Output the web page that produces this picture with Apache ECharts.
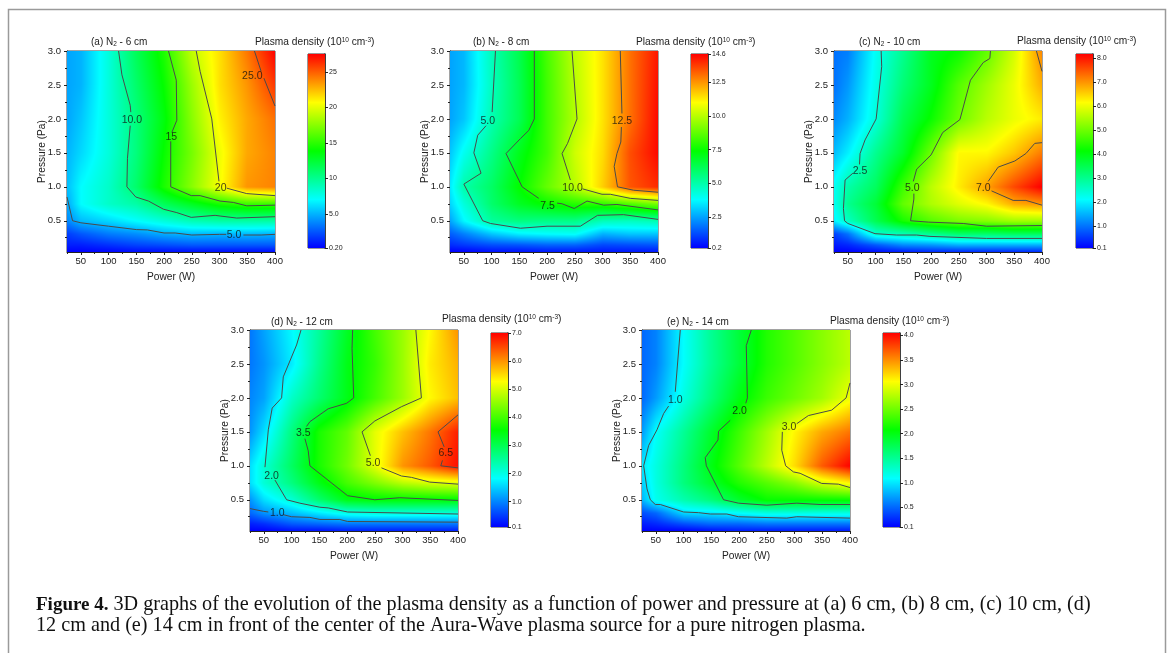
<!DOCTYPE html>
<html><head><meta charset="utf-8">
<style>html,body{margin:0;padding:0;background:#fff}#c{width:1168px;height:653px}</style>
<script src="https://cdn.jsdelivr.net/npm/echarts@6/dist/echarts.min.js"></script>
</head><body><div id="c"></div>
<script>
const powers = [25,50,100,150,200,250,300,350,400];
const pressures = [3,2.5,2,1.5,1,0.75,0.5,0.3,0.15,0.04];

const densityA = [
 [4.6,5,8,11.5,14.6,19,21.5,24.3,27.5],
 [4.6,5,8,11,14,18,21.5,23.5,26],
 [4.6,5.5,8,10.5,13.5,17.5,21,23,24.5],
 [5,6,8,10.5,14,17,20.3,23,24],
 [5.3,7,8.5,11,14.5,17.5,20.5,23.5,24],
 [4.7,7,8.5,9.4,11.5,13,14.5,15.3,15.3],
 [3.8,5.2,6,7,8,9,9.5,9.5,9.5],
 [1.8,2.5,3.5,4,4.8,5.2,5,5.2,5],
 [1,1,1.5,2,2.3,2.6,2.6,2.6,2.6],
 [0.2,0.2,0.3,0.5,0.5,0.5,0.5,0.5,0.5]];
const densityB = [
 [2.5,2.8,4.8,6.3,8.4,10.1,11.4,13,14.3],
 [2.5,2.8,4.7,6.2,8.3,10,11.4,13,14.4],
 [2.5,3,4.9,6.2,8.3,9.9,11.4,13,14.5],
 [3,4,5.5,7,8.3,10.3,11.5,13.5,14.5],
 [3.5,5,6,7.4,8.8,10,11.7,13.4,14],
 [3.2,4.3,5.9,6.9,7.5,7.9,8,8.5,9.1],
 [2.5,3.7,5.2,5.6,5.5,5.5,4.8,4.7,4.9],
 [1.5,2,3,3.6,3.8,3.9,2.7,3,3],
 [0.8,1,1.3,1.4,1.6,1.6,1.2,1.3,1.4],
 [0.2,0.2,0.4,0.4,0.5,0.5,0.5,0.5,0.5]];
const densityC = [
 [1,1.1,2.2,3,3.9,4.2,4.9,5.8,7.1],
 [1,1.3,2.3,3.2,3.9,4.8,5.4,6,6.8],
 [1.2,1.5,2.4,3.5,4.2,5,5.6,6,6.3],
 [1.6,2,3,3.8,5,6.2,6.2,6.6,7.2],
 [2.2,2.8,3.4,4.6,5.6,6.3,6.9,7.6,8.2],
 [2.2,3,3.7,4.9,5.5,5.9,6.2,6.8,7],
 [2,2.6,3.5,4.3,4.8,5.1,5.2,5.4,5.4],
 [0.6,1,2.5,2.7,3,3.3,3.3,3.4,3.4],
 [0.3,0.4,0.8,1.2,1.3,1.5,1.5,1.5,1.5],
 [0.1,0.1,0.2,0.3,0.4,0.4,0.4,0.4,0.4]];
const densityD = [
 [0.9,1.2,1.8,2.5,3.3,4,4.6,5.3,6],
 [0.9,1.1,1.7,2.6,3.4,3.9,4.6,5.4,5.8],
 [1,1.2,2.2,2.8,3.4,4,4.6,5.3,5.7],
 [1.1,1.6,2.7,3.7,4.2,5.1,5.7,6.2,6.8],
 [1.6,2.1,2.9,3.7,4.3,5.1,6,6.4,6.9],
 [1.6,2.1,2.7,3.4,4,4.4,4.8,5,5.1],
 [1.1,1.6,2.1,2.8,3.4,3.5,3.5,3.5,3.5],
 [0.8,1.1,1.4,1.7,2,2.1,2.1,2.1,2.1],
 [0.3,0.4,0.7,0.8,0.9,0.9,0.9,0.9,0.9],
 [0.1,0.1,0.2,0.2,0.3,0.3,0.3,0.3,0.3]];
const densityE = [
 [0.5,0.6,1.1,1.5,1.85,2.2,2.4,2.6,2.8],
 [0.5,0.6,1.1,1.5,1.85,2.2,2.4,2.6,2.8],
 [0.5,0.7,1.2,1.6,2,2.3,2.5,2.7,3],
 [0.7,1.1,1.5,1.9,2.3,2.7,3.1,3.4,3.6],
 [1,1.2,1.6,2,2.4,2.8,3.2,3.7,4.05],
 [0.9,1.2,1.6,1.9,2.2,2.4,2.6,2.9,3.1],
 [0.8,1.15,1.4,1.6,1.9,2.1,2.1,2.1,2.1],
 [0.4,0.5,0.95,1,1.1,1.2,1.2,1.2,1.2],
 [0.2,0.25,0.4,0.5,0.5,0.55,0.55,0.55,0.55],
 [0.1,0.1,0.1,0.15,0.2,0.2,0.2,0.2,0.2]];

// Contour traces as [power, pressure]
const contoursA = [
 [[25,0.85],[35,0.5],[50,0.47],[100,0.42],[150,0.37],[170,0.365],[200,0.32],[220,0.32],[250,0.29],[300,0.3],[312,0.3]],
 [[343,0.29],[375,0.29],[400,0.3]],
 [[118,3],[124,2.65],[139,2.2],[140,2.1]],
 [[139,1.9],[134,1.42],[133,1],[149,0.85],[172,0.79],[199,0.67],[223,0.62],[249,0.55],[292,0.58],[301,0.57],[331,0.54],[400,0.56]],
 [[208,3],[222,2.57],[223,1.98],[214,1.8]],
 [[212,1.67],[212,1],[249,0.87],[265,0.87],[301,0.79],[325,0.77],[349,0.72],[400,0.73]],
 [[258,3],[265,2.7],[286,2],[299,1.08]],
 [[313,0.98],[349,0.9],[400,0.87]],
 [[363,3],[375,2.7]],
 [[380,2.6],[400,2.19]]];
const labelsA = [[142,2,'10.0'],[213,1.75,'15'],[302,1,'20'],[359,2.65,'25.0'],[326,0.3,'5.0']];

const contoursB = [
 [[107,3],[101,2.1]],
 [[90,1.9],[75,1.76],[68,1.5],[81,1.2],[50,1.04],[84,0.5],[98,0.46],[152,0.39],[200,0.42],[260,0.42],[291,0.58],[338,0.59],[400,0.52]],
 [[177,3],[177,2],[167,1.83],[152,1.71],[126,1.49],[155,1],[185,0.83]],
 [[218,0.76],[227,0.75],[249,0.68],[272,0.79],[302,0.73],[326,0.74],[400,0.66]],
 [[245,3],[254,2],[237,1.64],[227,1.49],[242,1.1]],
 [[264,0.97],[299,0.89],[314,0.89],[350,0.83],[400,0.8]],
 [[332,3],[335,2.08]],
 [[334,1.88],[333,1.66],[326,1.49],[321,1.3],[327,1],[356,0.95],[400,0.92]]];
const labelsB = [[93,1.98,'5.0'],[201,0.73,'7.5'],[246,1,'10.0'],[335,1.98,'12.5']];

const contoursC = [
 [[110,3],[111,2.77],[101,2],[81,1.69],[72,1.49],[71,1.33]],
 [[59,1.2],[45,1.1],[42,0.68],[44,0.5],[50,0.46],[99,0.31],[138,0.29],[174,0.29],[198,0.27],[300,0.24],[400,0.24]],
 [[307,3],[306,2.89],[294,2.83],[271,2.57],[252,1.99],[221,1.8],[200,1.47],[174,1.26],[168,1.08]],
 [[169,0.9],[169,0.82],[163,0.5],[195,0.48],[258,0.46],[300,0.42],[400,0.43]],
 [[390,3],[400,2.7]],
 [[303,1.08],[321,1.29],[351,1.38],[371,1.49],[387,1.64],[400,1.65]],
 [[309,0.94],[348,0.8],[371,0.8],[400,0.73]]];
const labelsC = [[72,1.24,'2.5'],[166,1,'5.0'],[294,1,'7.0']];

const contoursD = [
 [[25,0.37],[49,0.33],[58,0.32]],
 [[85,0.28],[100,0.25],[133,0.24],[151,0.21],[187,0.21],[201,0.18],[400,0.17]],
 [[117,3],[109,2.78],[85,2.31],[82,2],[65,1.85],[58,1.53],[52,0.98]],
 [[70,0.79],[91,0.5],[115,0.45],[151,0.39],[166,0.38],[201,0.32],[400,0.29]],
 [[210,3],[209,2.73],[212,2],[199,1.92],[166,1.84],[133,1.65],[127,1.58]],
 [[124,1.4],[130,1.22],[133,1],[201,0.56],[250,0.5],[295,0.53],[400,0.49]],
 [[324,3],[334,2],[298,1.87],[250,1.66],[227,1.5],[242,1.15]],
 [[262,0.97],[298,0.85],[316,0.83],[349,0.76],[400,0.73]],
 [[400,1.75],[364,1.5],[375,1.28]],
 [[372,1.08],[369,1],[400,0.97]]];
const labelsD = [[74,0.32,'1.0'],[64,0.87,'2.0'],[121,1.5,'3.5'],[247,1.06,'5.0'],[378,1.2,'6.5']];

const contoursE = [
 [[94,3],[85,2.09]],
 [[73,1.88],[64,1.77],[52,1.53],[37,1.3],[28,1],[34,0.66],[40,0.5],[49,0.43],[58,0.43],[100,0.32],[127,0.31],[148,0.29],[178,0.29],[199,0.25],[286,0.23],[304,0.25],[400,0.23]],
 [[222,3],[213,2.77],[215,2],[212,1.92]],
 [[184,1.67],[163,1.51],[162,1.38],[139,1.12],[141,1],[172,0.5],[199,0.45],[250,0.42],[304,0.45],[346,0.43],[400,0.43]],
 [[400,2.22],[393,2],[367,1.82],[325,1.74],[304,1.62]],
 [[278,1.5],[277,1.23],[284,1],[298,0.91],[310,0.89],[349,0.74],[379,0.73],[400,0.68]]];
const labelsE = [[85,1.98,'1.0'],[201,1.82,'2.0'],[290,1.59,'3.0']];

const barTicksA = ['0.20','5.0','10','15','20','25'];
const barTicksB = ['0.2','2.5','5.0','7.5','10.0','12.5','14.6'];
const barTicksC = ['0.1','1.0','2.0','3.0','4.0','5.0','6.0','7.0','8.0'];
const barTicksD = ['0.1','1.0','2.0','3.0','4.0','5.0','6.0','7.0'];
const barTicksE = ['0.1','0.5','1.0','1.5','2.0','2.5','3.0','3.5','4.0'];

const xLabels = [50,100,150,200,250,300,350,400];
const xMinor = [25,75,125,175,225,275,325,375];
const yLabels = [0.5,1,1.5,2,2.5,3];
const yMinor = [0.25,0.75,1.25,1.75,2.25,2.75];

const panels = [
 {name:'(a) N{s|2} - 6 cm', d:densityA, c:contoursA, l:labelsA, t:barTicksA, lo:0.2, hi:27.5, gx:67, gy:51, bx:308, by:54, tx:91, ty:37, dx:255, dy:37},
 {name:'(b) N{s|2} - 8 cm', d:densityB, c:contoursB, l:labelsB, t:barTicksB, lo:0.2, hi:14.6, gx:450, gy:51, bx:691, by:54, tx:473, ty:37, dx:636, dy:37},
 {name:'(c) N{s|2} - 10 cm', d:densityC, c:contoursC, l:labelsC, t:barTicksC, lo:0.1, hi:8.17, gx:834, gy:51, bx:1076, by:54, tx:859, ty:37, dx:1017, dy:36},
 {name:'(d) N{s|2} - 12 cm', d:densityD, c:contoursD, l:labelsD, t:barTicksD, lo:0.1, hi:7, gx:250, gy:330, bx:491, by:333, tx:271, ty:317, dx:442, dy:314},
 {name:'(e) N{s|2} - 14 cm', d:densityE, c:contoursE, l:labelsE, t:barTicksE, lo:0.1, hi:4.05, gx:642, gy:330, bx:883, by:333, tx:667, ty:317, dx:830, dy:316}
];

const stops = [[0,[0,0,255]],[0.25,[0,255,255]],[0.5,[0,255,0]],[0.75,[255,255,0]],[1,[255,0,0]]];
function ramp(t){
  t=Math.max(0,Math.min(1,t));
  for(let i=1;i<stops.length;i++){
    if(t<=stops[i][0]){
      const a=stops[i-1],b=stops[i],f=(t-a[0])/(b[0]-a[0]);
      return [0,1,2].map(k=>a[1][k]+(b[1][k]-a[1][k])*f);
    }
  }
  return stops[4][1];
}
// Shades one measured cell: colour blends between its four corner readings
function renderCell(lo,hi){
  return function(params,api){
    const [x0,x1,y0,y1,a,b,c,d]=[0,1,2,3,4,5,6,7].map(i=>api.value(i));
    const p0=api.coord([x0,y0]),p1=api.coord([x1,y1]);
    const L=Math.round(p0[0]),R=Math.round(p1[0]),T=Math.round(p0[1]),B=Math.round(p1[1]);
    const w=Math.max(1,R-L),h=Math.max(1,B-T);
    const cv=document.createElement('canvas');cv.width=w;cv.height=h;
    const g=cv.getContext('2d'),im=g.createImageData(w,h);
    for(let j=0;j<h;j++){
      const v=(j+0.5)/h;
      for(let i=0;i<w;i++){
        const u=(i+0.5)/w;
        const val=(a*(1-u)+b*u)*(1-v)+(c*(1-u)+d*u)*v;
        const col=ramp((val-lo)/(hi-lo)),o=(j*w+i)*4;
        im.data[o]=col[0];im.data[o+1]=col[1];im.data[o+2]=col[2];im.data[o+3]=255;
      }
    }
    g.putImageData(im,0,0);
    return {type:'image',style:{image:cv,x:L,y:T,width:w,height:h},silent:true};
  };
}
function renderBar(params,api){
  const x0=api.coord([0,api.value(0)]),x1=api.coord([1,api.value(1)]);
  return {type:'rect',shape:{x:x0[0],y:x1[1],width:x1[0]-x0[0],height:x0[1]-x1[1]},
    style:{fill:{type:'linear',x:0,y:1,x2:0,y2:0,colorStops:stops.map(s=>({offset:s[0],color:'rgb('+s[1].join(',')+')'}))}},silent:true};
}

const PW=208,PH=201,BW=17,BH=194;
const grid=[],xAxis=[],yAxis=[],series=[],title=[];
const richT={s:{fontSize:6.5,verticalAlign:'bottom',fontFamily:'Liberation Sans',color:'#222',padding:[4,0,0,0]},
             u:{fontSize:6.5,verticalAlign:'top',fontFamily:'Liberation Sans',color:'#222',padding:[0,0,4,0]}};
const tickFont={fontFamily:'Liberation Sans',fontSize:9.5,color:'#222'};
panels.forEach(p=>{
  const gi=grid.length;
  grid.push({left:p.gx,top:p.gy,width:PW,height:PH,show:true,borderColor:'#444',borderWidth:1,backgroundColor:'transparent'});
  grid.push({left:p.bx,top:p.by,width:BW,height:BH,show:true,borderColor:'#333',borderWidth:1,backgroundColor:'transparent'});
  const xi=xAxis.length,yi=yAxis.length;
  xAxis.push({gridIndex:gi,type:'value',min:25,max:400,position:'bottom',name:'Power (W)',nameLocation:'middle',nameGap:20,nameMoveOverlap:false,
    nameTextStyle:{fontFamily:'Liberation Sans',fontSize:10.2,color:'#222'},splitLine:{show:false},
    axisLine:{onZero:false,lineStyle:{color:'#222',width:1}},
    axisTick:{customValues:xLabels,length:3,lineStyle:{color:'#222'}},
    axisLabel:Object.assign({customValues:xLabels,margin:4},tickFont)});
  xAxis.push({gridIndex:gi,type:'value',min:25,max:400,position:'bottom',axisLine:{show:false,onZero:false},splitLine:{show:false},
    axisTick:{customValues:xMinor,length:2,lineStyle:{color:'#222'}},axisLabel:{show:false}});
  yAxis.push({gridIndex:gi,type:'value',min:0.04,max:3,position:'left',name:'Pressure (Pa)',nameLocation:'middle',nameGap:20,nameMoveOverlap:false,
    nameTextStyle:{fontFamily:'Liberation Sans',fontSize:10.2,color:'#222'},splitLine:{show:false},
    axisLine:{show:true,onZero:false,lineStyle:{color:'#222',width:1}},
    axisTick:{show:true,customValues:yLabels,length:3,lineStyle:{color:'#222'}},
    axisLabel:Object.assign({customValues:yLabels,margin:6,formatter:v=>v.toFixed(1)},tickFont)});
  yAxis.push({gridIndex:gi,type:'value',min:0.04,max:3,position:'left',axisLine:{show:false,onZero:false},splitLine:{show:false},
    axisTick:{show:true,customValues:yMinor,length:2,lineStyle:{color:'#222'}},axisLabel:{show:false}});
  xAxis.push({gridIndex:gi+1,type:'value',min:0,max:1,show:false});
  const vals=p.t.map(Number),names={};vals.forEach((v,i)=>names[v]=p.t[i]);
  yAxis.push({gridIndex:gi+1,type:'value',min:p.lo,max:p.hi,position:'right',splitLine:{show:false},
    axisLine:{show:true,onZero:false,lineStyle:{color:'#222',width:1.5}},
    axisTick:{show:true,customValues:vals,length:3,inside:false,lineStyle:{color:'#222'}},
    axisLabel:{customValues:vals,margin:4,fontFamily:'Liberation Sans',fontSize:7,color:'#222',formatter:v=>names[v]||''}});
  const cells=[];
  for(let r=0;r<pressures.length-1;r++)for(let k=0;k<powers.length-1;k++){
    cells.push([powers[k],powers[k+1],pressures[r],pressures[r+1],p.d[r][k],p.d[r][k+1],p.d[r+1][k],p.d[r+1][k+1]]);
  }
  series.push({type:'custom',coordinateSystem:'cartesian2d',xAxisIndex:xi,yAxisIndex:yi,clip:true,silent:true,z:1,
    renderItem:renderCell(p.lo,p.hi),data:cells,encode:{x:[0,1],y:[2,3]},animation:false});
  p.c.forEach(seg=>series.push({type:'line',xAxisIndex:xi,yAxisIndex:yi,data:seg,showSymbol:false,silent:true,z:3,
    lineStyle:{color:'#4a4a4a',width:1},animation:false}));
  series.push({type:'scatter',xAxisIndex:xi,yAxisIndex:yi,data:p.l,symbolSize:0,silent:true,z:4,animation:false,
    label:{show:true,position:'inside',offset:[0,1],formatter:o=>o.value[2],fontFamily:'Liberation Sans',fontSize:10.5,color:'#111'}});
  series.push({type:'custom',coordinateSystem:'cartesian2d',xAxisIndex:xi+2,yAxisIndex:yi+2,silent:true,z:1,
    renderItem:renderBar,data:[[p.lo,p.hi]],encode:{y:[0,1]},animation:false});
  title.push({text:p.name,left:p.tx,top:p.ty,padding:0,textStyle:{fontFamily:'Liberation Sans',fontSize:10,fontWeight:'normal',color:'#222',rich:richT}});
  title.push({text:'Plasma density (10{u|10} cm{u|-3})',left:p.dx,top:p.dy,padding:0,textStyle:{fontFamily:'Liberation Sans',fontSize:10.2,fontWeight:'normal',color:'#222',rich:richT}});
});

const chart=echarts.init(document.getElementById('c'));
chart.setOption({
  animation:false,backgroundColor:'#fff',title,grid,xAxis,yAxis,series,
  graphic:[
    {type:'polyline',silent:true,shape:{points:[[8.5,653],[8.5,9.5],[1165.5,9.5],[1165.5,653]]},style:{stroke:'#9a9a9a',lineWidth:1.5,fill:null}},
    {type:'text',left:36,top:595,silent:true,style:{text:'{b|Figure 4.} 3D graphs of the evolution of the plasma density as a function of power and pressure at (a) 6 cm, (b) 8 cm, (c) 10 cm, (d)',
      font:'20.2px "Liberation Serif"',fill:'#111',rich:{b:{fontFamily:'Liberation Serif',fontSize:19,fontWeight:'bold',fill:'#111'}}}},
    {type:'text',left:36,top:616,silent:true,style:{text:'12 cm and (e) 14 cm in front of the center of the Aura-Wave plasma source for a pure nitrogen plasma.',
      font:'20.2px "Liberation Serif"',fill:'#111'}}
  ]
});
</script></body></html>
